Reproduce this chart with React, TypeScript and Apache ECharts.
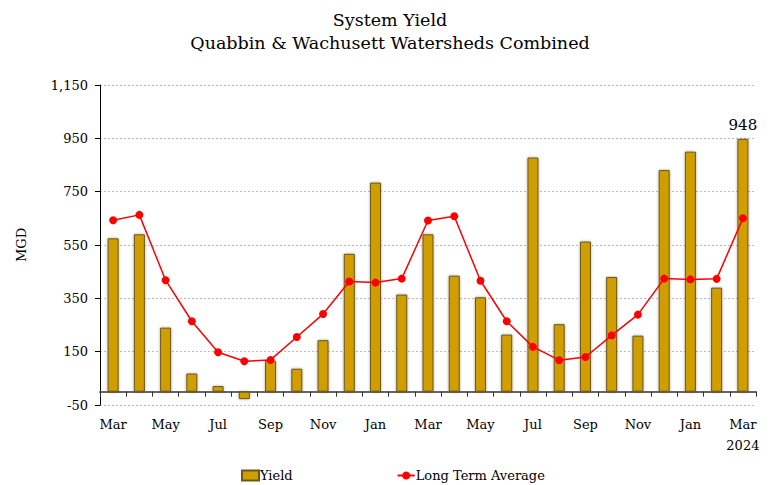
import React, { useEffect, useRef } from "react";
import * as echarts from "echarts";

const months = [
  "2022-03", "2022-04", "2022-05", "2022-06", "2022-07", "2022-08", "2022-09",
  "2022-10", "2022-11", "2022-12", "2023-01", "2023-02", "2023-03", "2023-04",
  "2023-05", "2023-06", "2023-07", "2023-08", "2023-09", "2023-10", "2023-11",
  "2023-12", "2024-01", "2024-02", "2024-03",
];
const monthNames = ["Jan", "Feb", "Mar", "Apr", "May", "Jun", "Jul", "Aug", "Sep", "Oct", "Nov", "Dec"];

const yieldValues = [
  575, 590, 240, 68, 21, -28, 116, 86, 193, 517, 784, 364, 590,
  435, 354, 214, 878, 253, 563, 430, 210, 831, 900, 390, 948,
];
const longTermAverage = [
  643, 663, 418, 264, 148, 114, 119, 205, 291, 413, 409, 424, 642,
  658, 416, 264, 168, 118, 130, 211, 289, 424, 421, 423, 650,
];
const yTicks = { min: -50, max: 1150, interval: 200 };

const FONT = "DejaVu Serif";

export default function App() {
  const ref = useRef<HTMLDivElement>(null);
  useEffect(() => {
    if (!ref.current) return;
    const chart = echarts.init(ref.current, null, { renderer: "svg" });
    const lastIdx = yieldValues.length - 1;
    chart.setOption({
      animation: false,
      backgroundColor: "#ffffff",
      textStyle: { fontFamily: FONT, color: "#000" },
      title: {
        text: "System Yield\nQuabbin & Wachusett Watersheds Combined",
        left: "center",
        top: 3,
        textStyle: { fontFamily: FONT, fontSize: 17.5, fontWeight: "normal", color: "#000", lineHeight: 23 },
      },
      legend: {
        top: 469,
        left: 241,
        padding: 0,
        itemGap: 104,
        itemWidth: 17,
        itemHeight: 10,
        textStyle: { fontFamily: FONT, fontSize: 13, color: "#000", padding: [0, 0, 0, -4] },
        data: [
          { name: "Yield", icon: "rect" },
          { name: "Long Term Average" },
        ],
      },
      grid: { left: 100, right: 24, top: 85, bottom: 80, containLabel: false },
      xAxis: {
        type: "category",
        data: months,
        boundaryGap: true,
        axisLine: { onZero: true, lineStyle: { color: "#666", width: 2 } },
        axisTick: { show: true, interval: 0, length: 5, lineStyle: { color: "#333" } },
        axisLabel: {
          interval: 1,
          margin: 9,
          fontFamily: FONT,
          fontSize: 13,
          color: "#000",
          lineHeight: 21,
          formatter: (v: string, i: number) => {
            const m = monthNames[parseInt(v.slice(5), 10) - 1];
            return i === lastIdx ? m + "\n" + v.slice(0, 4) : m;
          },
        },
        splitLine: { show: false },
      },
      yAxis: {
        type: "value",
        min: yTicks.min,
        max: yTicks.max,
        interval: yTicks.interval,
        name: "MGD",
        nameLocation: "middle",
        nameGap: 72,
        nameTextStyle: { fontFamily: FONT, fontSize: 13, color: "#000" },
        axisLine: { show: true, lineStyle: { color: "#000", width: 1 } },
        axisTick: { show: true, length: 5, lineStyle: { color: "#000" } },
        axisLabel: {
          margin: 12,
          fontFamily: FONT,
          fontSize: 13,
          color: "#000",
          formatter: (v: number) => v.toLocaleString("en-US"),
        },
        splitLine: { show: true, lineStyle: { color: "#bbb", type: [2, 2], width: 1 } },
      },
      series: [
        {
          name: "Yield",
          type: "bar",
          barWidth: 11,
          data: yieldValues.map((v, i) =>
            i === lastIdx
              ? { value: v, label: { show: true, position: "top", distance: 6, fontFamily: FONT, fontSize: 15, color: "#000" } }
              : v
          ),
          itemStyle: {
            color: "#D09E00",
            borderColor: "#6a5818",
            borderWidth: 1,
            shadowColor: "rgba(0,0,0,0.35)",
            shadowBlur: 3,
          },
          z: 2,
        },
        {
          name: "Long Term Average",
          type: "line",
          data: longTermAverage,
          symbol: "circle",
          symbolSize: 8,
          lineStyle: { color: "#ff0000", width: 1.5 },
          itemStyle: { color: "#ff0000" },
          z: 3,
        },
      ],
    });
    return () => chart.dispose();
  }, []);
  return (
    <div
      ref={ref}
      style={{ position: "absolute", left: 0, top: 0, width: 780, height: 485 }}
    />
  );
}
